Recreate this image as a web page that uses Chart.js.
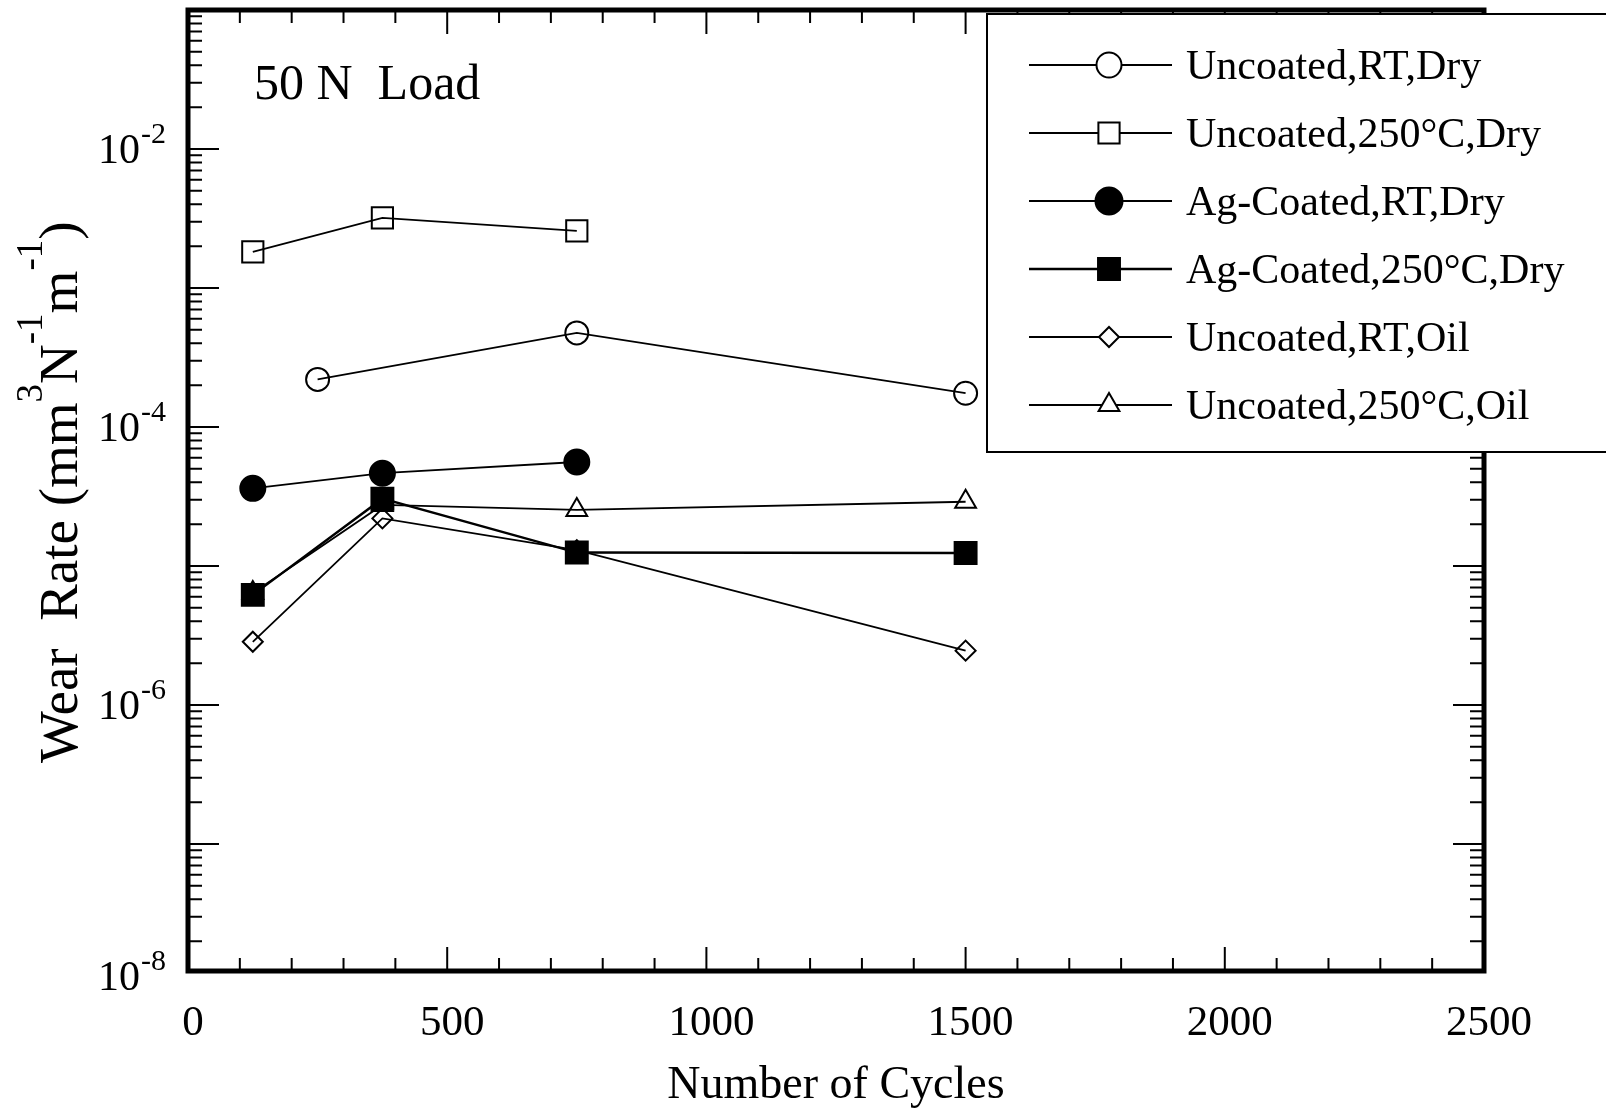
<!DOCTYPE html>
<html lang="en">

<head>
    <meta charset="UTF-8">
    <meta name="viewport" content="width=device-width, initial-scale=1.0">
    <title>wear rate vs cycles, 50 N</title>
    <script src="https://cdn.jsdelivr.net/npm/chart.js@4.4.1/dist/chart.umd.min.js"></script>
    <style>
        body { margin: 0; background: #fff; }
        canvas { display: block; }
    </style>
</head>

<body>
    <canvas id="myChart" width="1606" height="1113"></canvas>
    <script>
        // values
        var seriesNames = ['Uncoated,RT,Dry', 'Uncoated,250°C,Dry', 'Ag-Coated,RT,Dry',
            'Ag-Coated,250°C,Dry', 'Uncoated,RT,Oil', 'Uncoated,250°C,Oil'];

        var uncoatedRtDryCycles = [250, 750, 1500];
        var uncoatedRtDryWear = [2.2e-4, 4.75e-4, 1.75e-4];

        var uncoated250DryCycles = [125, 375, 750];
        var uncoated250DryWear = [1.82e-3, 3.2e-3, 2.58e-3];

        var agRtDryCycles = [125, 375, 750];
        var agRtDryWear = [3.62e-5, 4.65e-5, 5.6e-5];

        var ag250DryCycles = [125, 375, 750, 1500];
        var ag250DryWear = [6.2e-6, 3.05e-5, 1.25e-5, 1.24e-5];

        var uncoatedRtOilCycles = [125, 375, 750, 1500];
        var uncoatedRtOilWear = [2.85e-6, 2.2e-5, 1.3e-5, 2.46e-6];

        var uncoated250OilCycles = [125, 375, 750, 1500];
        var uncoated250OilWear = [6.4e-6, 2.75e-5, 2.53e-5, 2.9e-5];

        var xTickValues = [0, 500, 1000, 1500, 2000, 2500];
        var yTickExponents = [-8, -6, -4, -2];

        var xMin = 0, xMax = 2500;
        var yMin = 1.22e-8, yMax = 1e-1; // the scan cuts the axis just above 1e-8

        var serif = '"Liberation Serif", "Times New Roman", serif';

        function points(xs, ys) {
            return xs.map(function (x, i) {
                return { x: x, y: ys[i] };
            });
        }

        function series(label, xs, ys, style, radius, filled, lineWidth) {
            return {
                label: label,
                data: points(xs, ys),
                borderColor: '#000',
                borderWidth: lineWidth,
                pointStyle: style,
                pointRadius: radius,
                pointBorderWidth: 2,
                pointBorderColor: '#000',
                pointBackgroundColor: filled ? '#000' : 'rgba(0,0,0,0)',
                tension: 0,
                fill: false
            };
        }

        // inward ticks on all four sides plus the heavy frame
        var framePlugin = {
            id: 'frame',
            afterDatasetsDraw: function (chart) {
                var ctx = chart.ctx;
                var a = chart.chartArea;
                var x = chart.scales.x;
                var y = chart.scales.y;
                ctx.save();
                ctx.strokeStyle = '#000';
                ctx.lineWidth = 2;
                ctx.beginPath();
                for (var v = 100; v < xMax; v += 100) {
                    var px = x.getPixelForValue(v);
                    var len = v % 500 === 0 ? 24 : 13;
                    ctx.moveTo(px, a.bottom);
                    ctx.lineTo(px, a.bottom - len);
                    ctx.moveTo(px, a.top);
                    ctx.lineTo(px, a.top + len);
                }
                for (var e = -8; e <= -2; e++) {
                    for (var m = 1; m <= 9; m++) {
                        var val = m * Math.pow(10, e);
                        if (val <= yMin || val >= yMax) continue;
                        var py = y.getPixelForValue(val);
                        var l = m === 1 ? 31 : 14;
                        ctx.moveTo(a.left, py);
                        ctx.lineTo(a.left + l, py);
                        ctx.moveTo(a.right, py);
                        ctx.lineTo(a.right - l, py);
                    }
                }
                ctx.stroke();
                ctx.lineWidth = 5;
                ctx.strokeRect(a.left, a.top, a.right - a.left, a.bottom - a.top);
                ctx.restore();
            },
            afterDraw: function (chart) {
                var ctx = chart.ctx;
                var a = chart.chartArea;
                var x = chart.scales.x;
                var y = chart.scales.y;
                ctx.save();
                ctx.fillStyle = '#000';

                // x tick labels
                ctx.font = '43px ' + serif;
                ctx.textAlign = 'center';
                ctx.textBaseline = 'alphabetic';
                xTickValues.forEach(function (v) {
                    ctx.fillText(String(v), x.getPixelForValue(v) + 5, 1035);
                });

                // y tick labels 10^n
                yTickExponents.forEach(function (e) {
                    var py = Math.min(y.getPixelForValue(Math.pow(10, e)), a.bottom + 5);
                    ctx.font = '42px ' + serif;
                    ctx.textAlign = 'right';
                    ctx.fillText('10', 140, py + 14);
                    ctx.font = '30px ' + serif;
                    ctx.textAlign = 'left';
                    ctx.fillText(String(e), 141, py - 6);
                });

                // axis titles
                ctx.font = '46px ' + serif;
                ctx.textAlign = 'center';
                ctx.fillText('Number of Cycles', (a.left + a.right) / 2, 1098);

                ctx.save();
                ctx.translate(77, 763);
                ctx.rotate(-Math.PI / 2);
                ctx.textAlign = 'left';
                var parts = [['Wear  Rate (mm', false], ['3', true], ['N', false], ['-1', true],
                    ['m', false], ['-1', true], [')', false]];
                var cx = 0;
                parts.forEach(function (p) {
                    ctx.font = (p[1] ? '37px ' : '55px ') + serif;
                    ctx.fillText(p[0], cx, p[1] ? -35 : 0);
                    cx += ctx.measureText(p[0]).width;
                });
                ctx.restore();

                // inset note
                ctx.font = '50px ' + serif;
                ctx.textAlign = 'left';
                ctx.fillText('50 N  Load', 254, 99);

                // legend box, partly cut off by the right edge in the scan
                ctx.fillStyle = '#fff';
                ctx.fillRect(987, 14, 700, 438);
                ctx.strokeStyle = '#000';
                ctx.lineWidth = 2;
                ctx.strokeRect(987, 14, 700, 438);

                chart.data.datasets.forEach(function (ds, i) {
                    var ry = 65 + i * 68;
                    ctx.strokeStyle = '#000';
                    ctx.lineWidth = ds.borderWidth;
                    ctx.beginPath();
                    ctx.moveTo(1029, ry);
                    ctx.lineTo(1172, ry);
                    ctx.stroke();

                    ctx.fillStyle = ds.pointBackgroundColor === '#000' ? '#000' : '#fff';
                    ctx.lineWidth = ds.pointBorderWidth;
                    Chart.helpers.drawPoint(ctx, {
                        pointStyle: ds.pointStyle,
                        rotation: 0,
                        radius: ds.pointStyle === 'circle' ? ds.pointRadius + 1 : ds.pointRadius,
                        borderWidth: ds.pointBorderWidth
                    }, 1109, ry);

                    ctx.fillStyle = '#000';
                    ctx.font = '42px ' + serif;
                    ctx.textAlign = 'left';
                    ctx.fillText(ds.label, 1186, ry + 14);
                });
                ctx.restore();
            }
        };

        var ctx = document.getElementById('myChart');
        var myChart = new Chart(ctx, {
            type: 'line',
            data: {
                datasets: [
                    series(seriesNames[0], uncoatedRtDryCycles, uncoatedRtDryWear, 'circle', 11.5, false, 1.8),
                    series(seriesNames[1], uncoated250DryCycles, uncoated250DryWear, 'rect', 15, false, 1.8),
                    series(seriesNames[2], agRtDryCycles, agRtDryWear, 'circle', 12.5, true, 1.8),
                    series(seriesNames[3], ag250DryCycles, ag250DryWear, 'rect', 15.5, true, 2.4),
                    series(seriesNames[4], uncoatedRtOilCycles, uncoatedRtOilWear, 'rectRot', 10, false, 1.8),
                    series(seriesNames[5], uncoated250OilCycles, uncoated250OilWear, 'triangle', 12, false, 1.8)
                ]
            },
            options: {
                responsive: false,
                animation: false,
                layout: {
                    autoPadding: false,
                    padding: { left: 188, right: 122, top: 10, bottom: 142 }
                },
                plugins: {
                    legend: { display: false },
                    tooltip: { enabled: false }
                },
                scales: {
                    x: { type: 'linear', min: xMin, max: xMax, display: false },
                    y: { type: 'logarithmic', min: yMin, max: yMax, display: false }
                }
            },
            plugins: [framePlugin]
        });
    </script>
</body>

</html>
